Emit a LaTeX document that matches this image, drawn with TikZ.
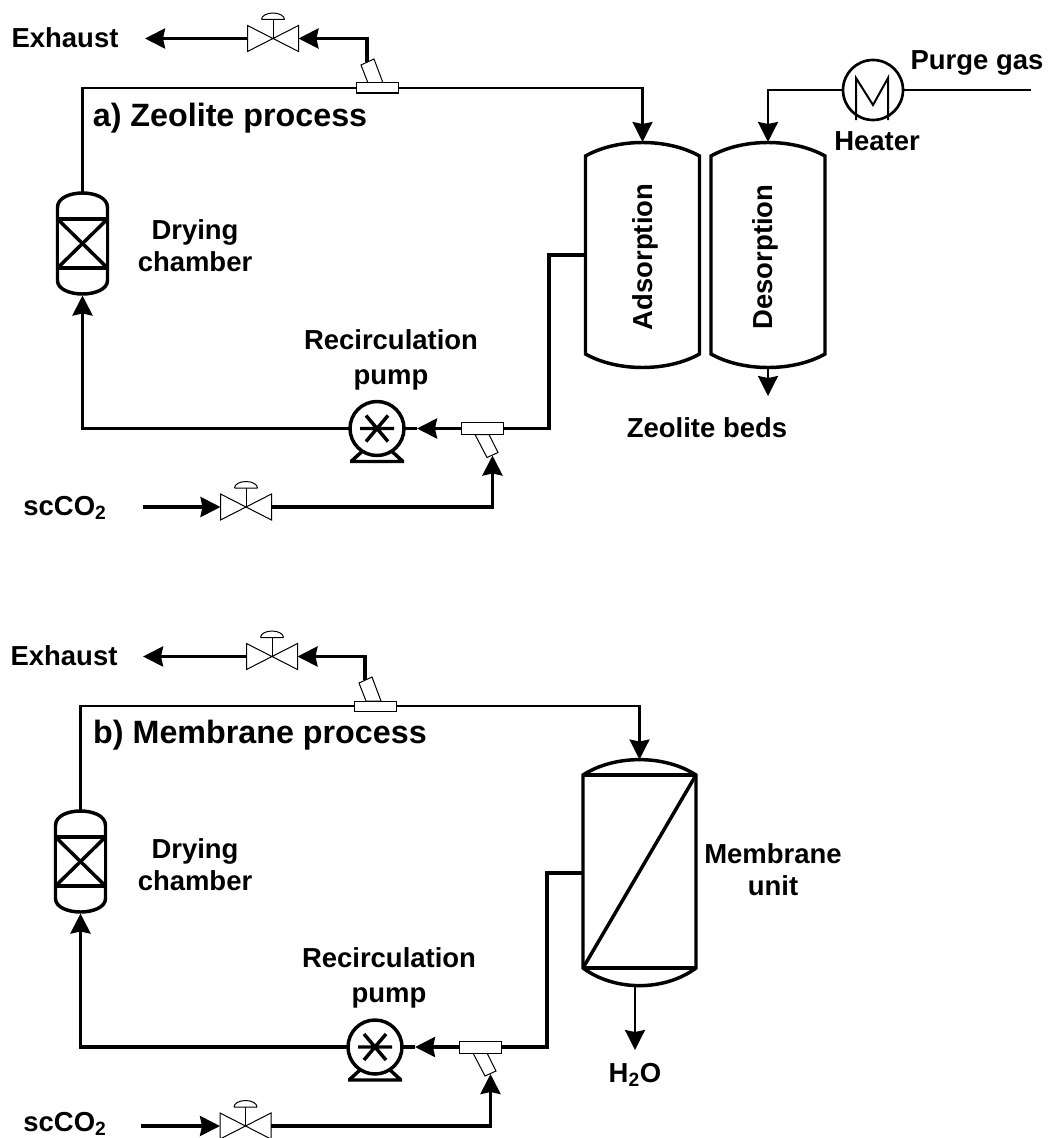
\documentclass[tikz,border=0pt]{standalone}
\usepackage{fontspec}
\setmainfont{Liberation Sans}
\usetikzlibrary{arrows.meta,positioning}

\tikzset{
    pipe/.style={line width=2.5pt, line join=miter},
    thinpipe/.style={line width=1.9pt, line join=miter},
    arrow/.style={pipe, -{Stealth[length=15pt, width=15pt, inset=1.5pt]}},
    thinarrow/.style={arrow, line width=1.7pt},
    shell/.style={line width=2.6pt, fill=white},
    thinline/.style={line width=0.75pt},
    label/.style={font=\bfseries\fontsize{20.6}{24}\selectfont, align=center, inner sep=0pt},
    title/.style={font=\bfseries\fontsize{24.2}{28}\selectfont, inner sep=0pt},
    pics/valve/.style={code={
        \draw[thinline, fill=white] (-25.5,-13) -- (25.5,13) -- (25.5,-13) -- (-25.5,13) -- cycle;
        \draw[thinline] (0,0) -- (0,-19);
        \draw[thinline] (-11.5,-19) -- (11.5,-19) (-11.5,-19) arc[start angle=180, end angle=360, x radius=11.5, y radius=6.5];
        \coordinate (-left) at (-25.5,0);
        \coordinate (-right) at (25.5,0);
    }},
    pics/teeup/.style={code={
        \draw[thinline, fill=white] (-9,-5) -- (-16,-23) -- (-3,-29) -- (6,-5) -- cycle;
        \draw[thinline, fill=white] (-21,-5) rectangle (21,5);
        \coordinate (-left) at (-21,0);
        \coordinate (-right) at (21,0);
        \coordinate (-branch) at (-10,-26);
    }},
    pics/teedown/.style={code={
        \draw[thinline, fill=white] (-7,6) -- (5,29) -- (16,24) -- (7,6) -- cycle;
        \draw[thinline, fill=white] (-21,-6) rectangle (21,6);
        \coordinate (-left) at (-21,0);
        \coordinate (-right) at (21,0);
        \coordinate (-branch) at (10.5,27);
    }},
    pics/pump/.style={code={
        \draw[shell] (-26,33) -- (-15,23) (26,33) -- (15,23) (-27,33) -- (27,33);
        \draw[shell] (0,0) circle[radius=27];
        \draw[shell] (-17,0) -- (17,0) (-11,-13) -- (11,13) (-11,13) -- (11,-13);
        \coordinate (-left) at (-27,0);
        \coordinate (-right) at (27,0);
        \coordinate (-inlet) at (40,0);
    }},
    pics/dryer/.style={code={
        \draw[shell] (-25,-36) .. controls (-25,-46) and (-12,-50.5) .. (0,-50.5)
            .. controls (12,-50.5) and (25,-46) .. (25,-36) -- (25,37)
            .. controls (25,46) and (12,50.5) .. (0,50.5)
            .. controls (-12,50.5) and (-25,46) .. (-25,37) -- cycle;
        \draw[shell] (-25,-24.5) rectangle (25,24.5);
        \draw[shell] (-25,-24.5) -- (25,24.5) (-25,24.5) -- (25,-24.5);
        \coordinate (-top) at (0,-50.5);
        \coordinate (-bottom) at (0,52);
    }},
    pics/bed/.style={code={
        \draw[shell] (-57,-99) .. controls (-25,-117) and (25,-117) .. (57,-99) -- (57,99)
            .. controls (25,117) and (-25,117) .. (-57,99) -- cycle;
        \coordinate (-top) at (0,-113);
        \coordinate (-bottom) at (0,113);
        \coordinate (-left) at (-57,0);
    }},
    pics/membrane/.style={code={
        \draw[shell] (-56.5,-96.5) .. controls (-25,-117) and (25,-117) .. (56.5,-96.5) -- (56.5,96.5)
            .. controls (25,120) and (-25,120) .. (-56.5,96.5) -- cycle;
        \draw[shell] (-56.5,-96.5) -- (56.5,-96.5) (-56.5,96.5) -- (56.5,96.5);
        \draw[shell] (-56.5,96.5) -- (56.5,-96.5);
        \coordinate (-top) at (0,-112);
        \coordinate (-bottom) at (-4.5,115);
        \coordinate (-left) at (-56.5,1.5);
    }}
}

\begin{document}
\begin{tikzpicture}[x=0.75pt, y=-0.75pt]
\useasboundingbox (0,0) rectangle (1048,1138);

% Zeolite process
\node[label] (exhaust_a) at (65,38) {Exhaust};
\node[title] (title_a) at (230,118) {a) Zeolite process};
\node[label] (drying_a) at (195,246) {Drying\\chamber};
\node[label] (recirc_a) at (391,360) {Recirculation\\[2pt]pump};
\node[label] (scco_a) at (65,508) {scCO\textsubscript{2}};
\node[label] (beds_a) at (707,428) {Zeolite beds};
\node[label] (purge_a) at (977,63) {Purge gas};
\node[label] (heatlabel_a) at (877,141) {Heater};

\coordinate (exhaust_tip_a) at (145,38.5);
\coordinate (scco_start_a) at (143,507);
\coordinate (purge_end_a) at (1031,90);
\coordinate (bed_out_a) at (768,396);

\pic (dry_a) at (82.5,243.5) {dryer};
\pic (ads_a) at (642.5,255) {bed};
\pic (des_a) at (768,255) {bed};
\pic (pump_a) at (377,428.5) {pump};
\pic (valveup_a) at (273,38.5) {valve};
\pic (valvelow_a) at (246,507) {valve};
\pic (teeup_a) at (377,88) {teeup};
\pic (teelow_a) at (482,428.5) {teedown};

\node[label, rotate=90] (adslabel_a) at (645,257) {Adsorption};
\node[label, rotate=90] (deslabel_a) at (765,257) {Desorption};

\node[circle, draw, line width=2pt, minimum size=45pt, inner sep=0pt] (heater_a) at (873,90) {};
\draw[line width=1.5pt] (856,120) -- (856,78) -- (873,105) -- (888,78) -- (888,120);

\draw[arrow] (valveup_a-left) -- (exhaust_tip_a);
\draw[arrow] (teeup_a-branch) |- (valveup_a-right);
\draw[thinpipe] (dry_a-top) |- (teeup_a-left);
\draw[thinarrow] (teeup_a-right) -| (ads_a-top);
\draw[pipe] (ads_a-left) -| (549,428.5) -- (teelow_a-right);
\draw[arrow] (teelow_a-left) -- (pump_a-inlet);
\draw[pipe] (pump_a-inlet) -- (pump_a-right);
\draw[arrow] (pump_a-left) -| (dry_a-bottom);
\draw[arrow] (scco_start_a) -- (valvelow_a-left);
\draw[arrow] (valvelow_a-right) -| (teelow_a-branch);
\draw[thinpipe] (purge_end_a) -- (heater_a.east);
\draw[thinarrow] (heater_a.west) -| (des_a-top);
\draw[thinarrow] (des_a-bottom) -- (bed_out_a);

% Membrane process
\node[label] (exhaust_b) at (64,656) {Exhaust};
\node[title] (title_b) at (260,735) {b) Membrane process};
\node[label] (drying_b) at (195,865) {Drying\\chamber};
\node[label] (recirc_b) at (389,978) {Recirculation\\[2pt]pump};
\node[label] (scco_b) at (65,1124) {scCO\textsubscript{2}};
\node[label] (memlabel_b) at (773,870) {Membrane\\unit};
\node[label] (water_b) at (635,1075) {H\textsubscript{2}O};

\coordinate (exhaust_tip_b) at (143,656.5);
\coordinate (scco_start_b) at (141,1126);
\coordinate (water_tip_b) at (635,1050);

\pic (dry_b) at (80.5,861.5) {dryer};
\pic (mem_b) at (639.5,871.5) {membrane};
\pic (pump_b) at (375,1047) {pump};
\pic (valveup_b) at (272,656.5) {valve};
\pic (valvelow_b) at (245.5,1126) {valve};
\pic (teeup_b) at (375,706) {teeup};
\pic (teelow_b) at (480,1047) {teedown};

\draw[arrow] (valveup_b-left) -- (exhaust_tip_b);
\draw[arrow] (teeup_b-branch) |- (valveup_b-right);
\draw[thinpipe] (dry_b-top) |- (teeup_b-left);
\draw[thinarrow] (teeup_b-right) -| (mem_b-top);
\draw[pipe] (mem_b-left) -| (547,1047) -- (teelow_b-right);
\draw[arrow] (teelow_b-left) -- (pump_b-inlet);
\draw[pipe] (pump_b-inlet) -- (pump_b-right);
\draw[arrow] (pump_b-left) -| (dry_b-bottom);
\draw[arrow] (scco_start_b) -- (valvelow_b-left);
\draw[arrow] (valvelow_b-right) -| (teelow_b-branch);
\draw[thinarrow] (mem_b-bottom) -- (water_tip_b);

\end{tikzpicture}
\end{document}
